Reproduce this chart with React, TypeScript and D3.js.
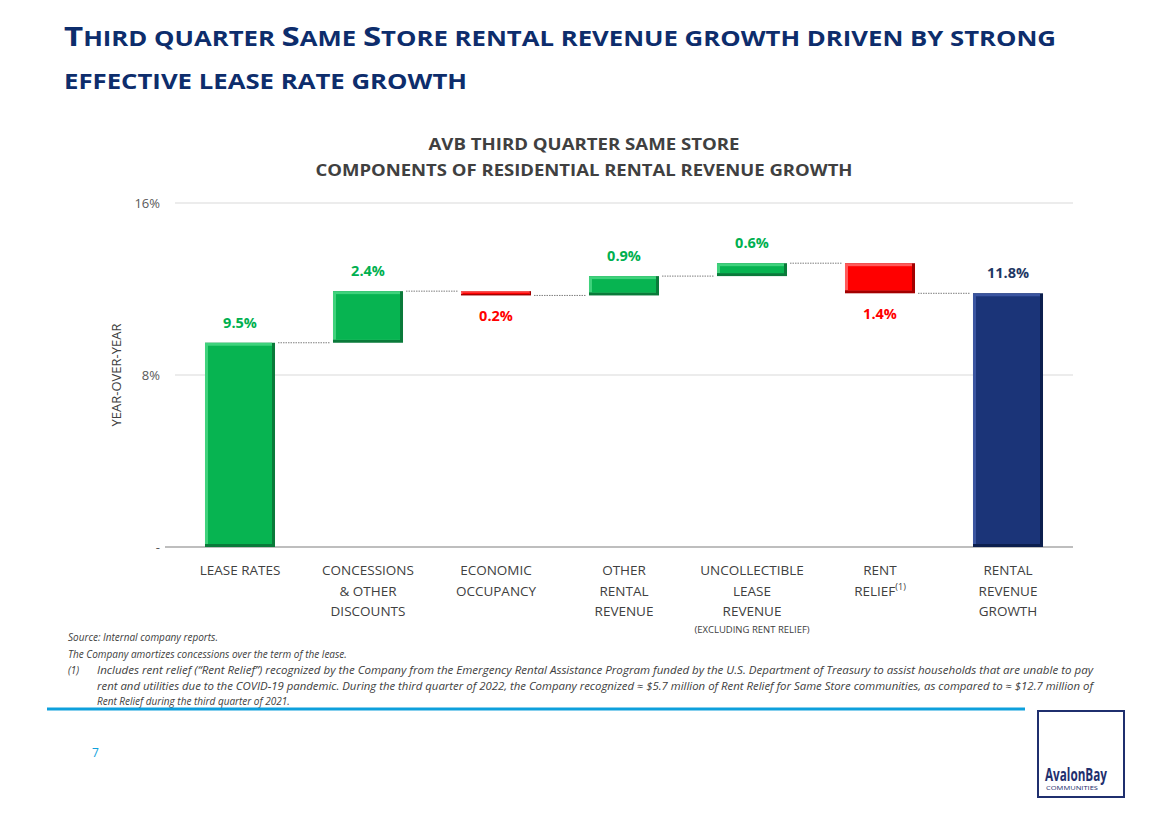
import * as React from 'react';
import * as d3 from 'd3';

// categories (line-broken labels) and the step values of the waterfall
const categories = ['lease', 'concessions', 'occupancy', 'other', 'uncollectible', 'relief', 'total'];
const labelLines = [
    ['LEASE RATES'],
    ['CONCESSIONS', '& OTHER', 'DISCOUNTS'],
    ['ECONOMIC', 'OCCUPANCY'],
    ['OTHER', 'RENTAL', 'REVENUE'],
    ['UNCOLLECTIBLE', 'LEASE', 'REVENUE'],
    ['RENT', 'RELIEF'],
    ['RENTAL', 'REVENUE', 'GROWTH'],
];
const steps = [9.5, 2.4, -0.2, 0.9, 0.6, -1.4];
const totalValue = 11.8;
const yTicks = [0, 8, 16];
const yTickLabels = ['-', '8%', '16%'];

const footnotes = [
    'Source:  Internal company reports.',
    'The Company amortizes concessions over the term of the lease.',
];
const note1 = [
    'Includes rent relief (\u201CRent Relief\u201D) recognized by the Company from the Emergency Rental Assistance Program funded by the U.S. Department of Treasury to assist households that are unable to pay',
    'rent and utilities due to the COVID-19 pandemic. During the third quarter of 2022, the Company recognized \u2248 $5.7 million of Rent Relief for Same Store communities, as compared to \u2248 $12.7 million of',
    'Rent Relief during the third quarter of 2021.',
];

const W = 1151, H = 822;
const FONT = '"Open Sans", "DejaVu Sans", sans-serif';
const NAVY = '#0d2d6c';
const GRAY = '#404040';

const App: React.FC = () => {

    const x = d3.scaleBand<string>().domain(categories).range([176, 1072]).paddingInner(0.453).paddingOuter(0.2265);
    const y = d3.scaleLinear().domain([0, 16]).range([547, 203]);

    // build the waterfall boxes
    let run = 0;
    const boxes = steps.map((v, i) => {
        const start = run;
        run = run + v;
        return { key: categories[i], start, end: run, v, kind: v >= 0 ? 'up' : 'down' };
    });
    boxes.push({ key: 'total', start: 0, end: totalValue, v: totalValue, kind: 'total' });

    const palette: any = {
        up: { edge: '#0a7a3a', fill: '#07b451', hi: '#3fd27c', text: '#00b050' },
        down: { edge: '#a30000', fill: '#ff0000', hi: '#ff5a5a', text: '#ff0000' },
        total: { edge: '#0c1f4e', fill: '#1b3478', hi: '#3b55a0', text: '#1f3864' },
    };

    const bw = x.bandwidth();

    return (
        <svg width={W} height={H} style={{ position: 'absolute', left: 0, top: 0, background: '#fff' }}>
            {/* slide title */}
            <text x={64} y={46} fill={NAVY} fontFamily={FONT} fontWeight={700} fontSize={21} textLength={992} lengthAdjust='spacingAndGlyphs'>
                <tspan fontSize={27}>T</tspan>HIRD QUARTER <tspan fontSize={27}>S</tspan>AME <tspan fontSize={27}>S</tspan>TORE RENTAL REVENUE GROWTH DRIVEN BY STRONG
            </text>
            <text x={64} y={89} fill={NAVY} fontFamily={FONT} fontWeight={700} fontSize={21} textLength={403} lengthAdjust='spacingAndGlyphs'>
                EFFECTIVE LEASE RATE GROWTH
            </text>

            {/* chart title */}
            <text x={584} y={150} textAnchor='middle' fill={GRAY} fontFamily={FONT} fontWeight={700} fontSize={16} textLength={311} lengthAdjust='spacingAndGlyphs'>AVB THIRD QUARTER SAME STORE</text>
            <text x={584} y={176} textAnchor='middle' fill={GRAY} fontFamily={FONT} fontWeight={700} fontSize={16} textLength={537} lengthAdjust='spacingAndGlyphs'>COMPONENTS OF RESIDENTIAL RENTAL REVENUE GROWTH</text>

            {/* grid + axis */}
            {yTicks.map((t, i) => (
                <g key={t}>
                    {t > 0 && <line x1={175} x2={1073} y1={y(t)} y2={y(t)} stroke='#d9d9d9' strokeWidth={1} />}
                    <text x={160} y={y(t) + 5} textAnchor='end' fill='#595959' fontFamily={FONT} fontSize={13}>{yTickLabels[i]}</text>
                </g>
            ))}
            <line x1={165} x2={1073} y1={y(0)} y2={y(0)} stroke='#7f7f7f' strokeWidth={1.2} />
            <text transform={`translate(121,${y(8)}) rotate(-90)`} textAnchor='middle' fill={GRAY} fontFamily={FONT} fontSize={13}>YEAR-OVER-YEAR</text>

            {/* connectors */}
            {boxes.slice(0, -1).map((b, i) => {
                const next = boxes[i + 1];
                return (
                    <line key={'c' + i} x1={(x(b.key) as number) + bw + 3} x2={(x(next.key) as number) - 3} y1={y(b.end)} y2={y(b.end)}
                        stroke='#7f7f7f' strokeWidth={1} strokeDasharray='1.5,1' />
                );
            })}

            {/* bars */}
            {boxes.map((b) => {
                const c = palette[b.kind];
                const x0 = x(b.key) as number;
                const top = y(Math.max(b.start, b.end));
                const bot = y(Math.min(b.start, b.end));
                const h = bot - top;
                const ins = Math.min(3, h / 3);
                return (
                    <g key={b.key}>
                        <rect x={x0} y={top} width={bw} height={h} fill={c.edge} />
                        <rect x={x0} y={top} width={bw - ins} height={h - ins} fill={c.hi} />
                        <rect x={x0 + ins} y={top + ins} width={bw - 2 * ins} height={h - 2 * ins} fill={c.fill} />
                    </g>
                );
            })}

            {/* value labels */}
            {boxes.map((b) => {
                const c = palette[b.kind];
                const cx = (x(b.key) as number) + bw / 2;
                const ly = b.kind === 'down' ? y(Math.min(b.start, b.end)) + 26 : y(Math.max(b.start, b.end)) - 15;
                return (
                    <text key={'l' + b.key} x={cx} y={ly} textAnchor='middle' fill={c.text} fontFamily={FONT} fontWeight={700} fontSize={14.5}>
                        {d3.format('.1f')(Math.abs(b.v))}%
                    </text>
                );
            })}

            {/* category labels */}
            {categories.map((k, i) => {
                const cx = (x(k) as number) + bw / 2;
                return (
                    <text key={'cat' + k} x={cx} y={575} textAnchor='middle' fill={GRAY} fontFamily={FONT} fontSize={13.5}>
                        {labelLines[i].map((ln, j) => (
                            <tspan key={j} x={cx} dy={j === 0 ? 0 : 20.5}>
                                {ln}
                                {k === 'relief' && j === 1 && <tspan fontSize={9} dy={-6}>(1)</tspan>}
                            </tspan>
                        ))}
                    </text>
                );
            })}
            <text x={(x('uncollectible') as number) + bw / 2} y={633} textAnchor='middle' fill={GRAY} fontFamily={FONT} fontSize={9.5}>(EXCLUDING RENT RELIEF)</text>

            {/* footnotes */}
            {footnotes.map((f, i) => (
                <text key={'f' + i} x={68} y={641 + i * 16.5} fill={GRAY} fontFamily={FONT} fontStyle='italic' fontSize={10}>{f}</text>
            ))}
            <text x={68} y={674} fill={GRAY} fontFamily={FONT} fontStyle='italic' fontSize={10}>(1)</text>
            {note1.map((f, i) => (
                <text key={'n' + i} x={97} y={674 + i * 15.5} fill={GRAY} fontFamily={FONT} fontStyle='italic' fontSize={10}
                    textLength={i < 2 ? 996 : undefined} lengthAdjust='spacingAndGlyphs'>{f}</text>
            ))}

            {/* footer */}
            <line x1={47} x2={1025} y1={709} y2={709} stroke='#0ea0dc' strokeWidth={3} />
            <text x={92} y={757} fill='#0ea0dc' fontFamily={FONT} fontSize={12}>7</text>

            {/* logo */}
            <rect x={1038} y={711} width={86} height={86} fill='none' stroke='#1f2f6e' strokeWidth={2} />
            <text x={1045} y={781} fill='#1f2f6e' fontFamily={FONT} fontWeight={700} fontSize={17} textLength={62} lengthAdjust='spacingAndGlyphs'>AvalonBay</text>
            <text x={1046} y={790} fill='#1f2f6e' fontFamily={FONT} fontSize={5.5} textLength={52} lengthAdjust='spacingAndGlyphs'>COMMUNITIES</text>
        </svg>
    );
};

export default App;
